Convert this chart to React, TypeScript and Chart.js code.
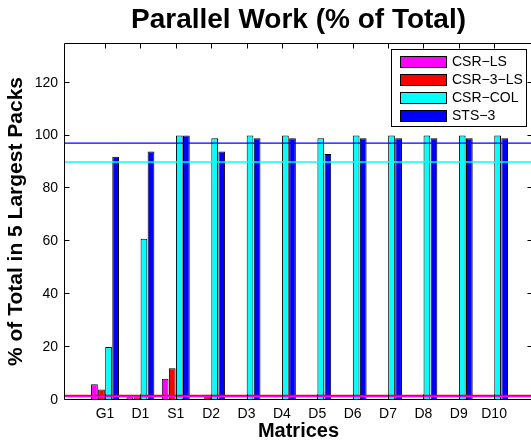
import React, { useEffect, useRef } from 'react';
import { Chart, registerables } from 'chart.js';

Chart.register(...registerables);

const categories = ['G1', 'D1', 'S1', 'D2', 'D3', 'D4', 'D5', 'D6', 'D7', 'D8', 'D9', 'D10'];
const seriesNames = ['CSR−LS', 'CSR−3−LS', 'CSR−COL', 'STS−3'];
const seriesColors = ['#ff00ff', '#ff0000', '#00ffff', '#0000ff'];
const csrLs = [6, 1, 8, 0, 0, 0, 0, 0, 0, 0, 0, 0];
const csr3Ls = [4, 1, 12, 2, 0, 0, 0, 0, 0, 0, 0, 0];
const csrCol = [20, 61, 100, 99, 100, 100, 99, 100, 100, 100, 100, 100];
const sts3 = [92, 94, 100, 94, 99, 99, 93, 99, 99, 99, 99, 99];
// average reference lines for each series (same order as series)
const refLines = [1.3, 1.7, 90, 97.1];
const yTicks = [0, 20, 40, 60, 80, 100, 120];
const xMin = -0.16;
const xMax = 13.1;
const yMin = 0;
const yMax = 135;

const FONT = "'Liberation Sans', Arial, Helvetica, sans-serif";

const framePlugin = {
  id: 'matlabFrame',
  afterDatasetsDraw(chart: any) {
    const { ctx, chartArea: a, scales } = chart;
    const xs = scales.x;
    const ys = scales.y;
    const L = a.left + 0.5;
    const R = a.right - 0.5;
    const T = a.top + 0.5;
    const B = a.bottom - 0.5;
    const tl = 5;
    ctx.save();
    ctx.strokeStyle = '#000';
    ctx.lineWidth = 1;
    ctx.beginPath();
    ctx.rect(L, T, R - L, B - T);
    for (const t of xs.ticks) {
      const px = Math.round(xs.getPixelForValue(t.value)) + 0.5;
      ctx.moveTo(px, B);
      ctx.lineTo(px, B - tl);
      ctx.moveTo(px, T);
      ctx.lineTo(px, T + tl);
    }
    for (const t of ys.ticks) {
      const py = Math.round(ys.getPixelForValue(t.value)) - 0.5;
      ctx.moveTo(L, py);
      ctx.lineTo(L + tl, py);
      ctx.moveTo(R, py);
      ctx.lineTo(R - tl, py);
    }
    ctx.stroke();
    ctx.restore();
  },
};

const legendPlugin = {
  id: 'matlabLegend',
  afterDraw(chart: any) {
    const { ctx, chartArea: a } = chart;
    const right = a.right - 7;
    const left = right - 135;
    const top = a.top + 6;
    const h = 77;
    ctx.save();
    ctx.fillStyle = '#fff';
    ctx.fillRect(left, top, right - left, h);
    ctx.strokeStyle = '#000';
    ctx.lineWidth = 1;
    ctx.strokeRect(Math.round(left) + 0.5, Math.round(top) + 0.5, right - left, h);
    ctx.font = `14px ${FONT}`;
    ctx.textBaseline = 'middle';
    ctx.textAlign = 'left';
    const bars = chart.data.datasets.filter((d: any) => d.type === 'bar');
    bars.forEach((d: any, i: number) => {
      const cy = top + 13 + i * 18;
      ctx.fillStyle = d.backgroundColor;
      ctx.fillRect(left + 9, cy - 5.5, 46, 11);
      ctx.strokeStyle = '#000';
      ctx.strokeRect(left + 9.5, cy - 5.5, 46, 11);
      ctx.fillStyle = '#000';
      ctx.fillText(d.label, left + 61, cy + 0.5);
    });
    ctx.restore();
  },
};

export default function App() {
  const ref = useRef<HTMLCanvasElement>(null);

  useEffect(() => {
    if (!ref.current) return;
    const seriesValues = [csrLs, csr3Ls, csrCol, sts3];
    const barSets = seriesValues.map((vals, s) => ({
      type: 'bar' as const,
      label: seriesNames[s],
      data: vals.map((v, i) => ({ x: i + 1, y: v })),
      backgroundColor: seriesColors[s],
      borderColor: '#000',
      borderWidth: 1,
      categoryPercentage: 0.8,
      barPercentage: 0.95,
      order: 1,
    }));
    const lineSets = refLines.map((v, s) => ({
      type: 'line' as const,
      label: seriesNames[s] + ' avg',
      data: [
        { x: xMin, y: v },
        { x: xMax, y: v },
      ],
      borderColor: seriesColors[s],
      borderWidth: 1.3,
      pointRadius: 0,
      fill: false,
      order: 0,
    }));
    const chart = new Chart(ref.current, {
      type: 'bar',
      data: { datasets: [...barSets, ...lineSets] as any },
      plugins: [framePlugin, legendPlugin],
      options: {
        animation: false,
        responsive: false,
        devicePixelRatio: 1,
        layout: { padding: { top: 3, left: 0, right: 0, bottom: 0 } },
        plugins: {
          legend: { display: false },
          tooltip: { enabled: false },
          title: {
            display: true,
            fullSize: false,
            text: 'Parallel Work (% of Total)',
            color: '#000',
            font: { family: FONT, size: 28, weight: 'bold', lineHeight: 1.2 },
            padding: { top: 0, bottom: 6.4 },
          },
        },
        scales: {
          x: {
            type: 'linear',
            min: xMin,
            max: xMax,
            offset: false,
            grid: { display: false, drawTicks: false, offset: false },
            border: { display: false },
            afterBuildTicks: (scale: any) => {
              scale.ticks = categories.map((_, i) => ({ value: i + 1 }));
            },
            afterFit: (scale: any) => {
              scale.height = 43;
            },
            ticks: {
              autoSkip: false,
              maxRotation: 0,
              minRotation: 0,
              padding: 6,
              color: '#000',
              font: { family: FONT, size: 14 },
              callback: (v: any) => categories[Math.round(v) - 1] ?? '',
            },
            title: {
              display: true,
              text: 'Matrices',
              color: '#000',
              font: { family: FONT, size: 20, weight: 'bold', lineHeight: 1.2 },
              padding: { top: 0, bottom: 0 },
            },
          },
          y: {
            type: 'linear',
            min: yMin,
            max: yMax,
            grid: { display: false, drawTicks: false },
            border: { display: false },
            afterBuildTicks: (scale: any) => {
              scale.ticks = yTicks.map((v) => ({ value: v }));
            },
            afterFit: (scale: any) => {
              scale.width = 64;
            },
            ticks: {
              padding: 6,
              color: '#000',
              font: { family: FONT, size: 14 },
            },
            title: {
              display: true,
              text: '% of Total in 5 Largest Packs',
              color: '#000',
              font: { family: FONT, size: 21, weight: 'bold', lineHeight: 1.2 },
              padding: { top: 4, bottom: 0 },
            },
          },
        },
      } as any,
    });
    return () => chart.destroy();
  }, []);

  return (
    <div
      style={{
        position: 'fixed',
        left: 0,
        top: 0,
        width: 531,
        height: 443,
        overflow: 'hidden',
        background: '#fff',
      }}
    >
      <canvas ref={ref} width={533} height={443} style={{ display: 'block' }} />
    </div>
  );
}
